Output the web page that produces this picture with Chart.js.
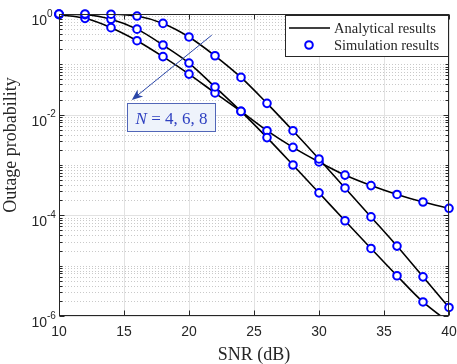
<!DOCTYPE html>
<html>
<head>
<meta charset="utf-8">
<script src="https://cdn.jsdelivr.net/npm/chart.js@4.4.1/dist/chart.umd.min.js"></script>
<style>
  html, body { margin: 0; padding: 0; background: #fff; }
  #wrap { width: 457px; height: 364px; }
</style>
</head>
<body>
<div id="wrap"><canvas id="outageChart"></canvas></div>
<script>
// SNR grid (dB)
const snrDb = [10, 12, 14, 16, 18, 20, 22, 24, 26, 28, 30, 32, 34, 36, 38, 40];

// analytical curves
const analyticalN4 = [1.0, 0.999, 0.99, 0.91, 0.65, 0.35, 0.148, 0.055, 0.0168, 0.0048, 1.32e-3, 3.5e-4, 9.3e-5, 2.45e-5, 6.0e-6, 1.48e-6];
const analyticalN6 = [0.995, 0.97, 0.785, 0.50, 0.242, 0.106, 0.0355, 0.0116, 3.5e-3, 1.0e-3, 2.8e-4, 7.8e-5, 2.2e-5, 6.3e-6, 1.9e-6, 7.5e-7];
const analyticalN8 = [0.97, 0.82, 0.535, 0.295, 0.142, 0.064, 0.027, 0.0116, 4.8e-3, 2.24e-3, 1.15e-3, 6.3e-4, 3.9e-4, 2.6e-4, 1.84e-4, 1.38e-4];

// simulation points
const simulationN4 = [1.0, 1.0, 0.99, 0.91, 0.65, 0.35, 0.148, 0.055, 0.0168, 0.0048, 1.32e-3, 3.5e-4, 9.3e-5, 2.45e-5, 6.0e-6, 1.48e-6];
const simulationN6 = [0.995, 0.97, 0.785, 0.50, 0.242, 0.106, 0.0355, 0.0116, 3.5e-3, 1.0e-3, 2.8e-4, 7.8e-5, 2.2e-5, 6.3e-6, 1.9e-6, 7.5e-7];
const simulationN8 = [0.97, 0.82, 0.535, 0.295, 0.142, 0.064, 0.027, 0.0116, 4.8e-3, 2.24e-3, 1.15e-3, 6.3e-4, 3.9e-4, 2.6e-4, 1.84e-4, 1.38e-4];

// axis ticks and labels
const xTicks = [10, 15, 20, 25, 30, 35, 40];
const yTickExponents = [0, -2, -4, -6];
const legendLabels = ['Analytical results', 'Simulation results'];
const xTitle = 'SNR (dB)';
const yTitle = 'Outage probability';
const noteVar = 'N';
const noteRest = ' = 4, 6, 8';

const AXIS = '#262626';
const SERIF = '"Liberation Serif", "Times New Roman", serif';
const SANS = '"Liberation Sans", Arial, sans-serif';
const MARK = '#0000ff';
const MARK_R = 3.8;
const MARK_W = 2;

const pairs = ys => snrDb.map((x, i) => ({ x: x, y: ys[i] }));

const lineSet = ys => ({
    data: pairs(ys),
    borderColor: '#000',
    borderWidth: 1.6,
    pointRadius: 0,
    cubicInterpolationMode: 'monotone',
    order: 2
});

const markSet = ys => ({
    data: pairs(ys),
    showLine: false,
    pointRadius: MARK_R,
    pointBorderWidth: MARK_W,
    pointBorderColor: MARK,
    pointBackgroundColor: '#fff',
    clip: { left: 10, top: 10, right: 10, bottom: 0 },
    order: 1
});

function seg(ctx, x1, y1, x2, y2) {
    ctx.beginPath();
    ctx.moveTo(x1, y1);
    ctx.lineTo(x2, y2);
    ctx.stroke();
}

const matlabLook = {
    id: 'matlabLook',
    beforeDraw(chart) {
        const ctx = chart.ctx;
        ctx.save();
        ctx.fillStyle = '#fff';
        ctx.fillRect(0, 0, chart.width, chart.height);
        ctx.restore();
    },
    beforeDatasetsDraw(chart) {
        const { ctx, chartArea: a, scales: { x, y } } = chart;
        ctx.save();
        ctx.lineWidth = 1;
        // minor grid, dotted
        ctx.strokeStyle = '#c9c9c9';
        ctx.setLineDash([1, 2]);
        for (let e = -6; e < 0; e++) {
            for (let k = 1; k < 10; k++) {
                if (k === 1 && e % 2 === 0) continue;
                const py = Math.round(y.getPixelForValue(k * Math.pow(10, e))) + 0.5;
                seg(ctx, a.left, py, a.right, py);
            }
        }
        // major grid, solid
        ctx.setLineDash([]);
        ctx.strokeStyle = '#e2e2e2';
        xTicks.forEach(v => {
            const px = Math.round(x.getPixelForValue(v)) + 0.5;
            seg(ctx, px, a.top, px, a.bottom);
        });
        yTickExponents.forEach(e => {
            const py = Math.round(y.getPixelForValue(Math.pow(10, e))) + 0.5;
            seg(ctx, a.left, py, a.right, py);
        });
        ctx.restore();
    },
    afterDatasetsDraw(chart) {
        const { ctx, chartArea: a, scales: { x, y } } = chart;
        ctx.save();
        ctx.strokeStyle = AXIS;
        ctx.lineWidth = 1;
        const L = Math.round(a.left) + 0.5, R = Math.round(a.right) - 0.5;
        const T = Math.round(a.top) + 0.5, B = Math.round(a.bottom) - 0.5;
        ctx.strokeRect(L, T, R - L, B - T);

        // y ticks (major + minor), both sides
        for (let e = -6; e <= 0; e++) {
            for (let k = 1; k < 10; k++) {
                const v = k * Math.pow(10, e);
                if (v > 1) break;
                const py = Math.round(y.getPixelForValue(v)) + 0.5;
                const len = (k === 1 && e % 2 === 0) ? 5 : 3;
                seg(ctx, L, py, L + len, py);
                seg(ctx, R, py, R - len, py);
            }
        }
        // x ticks
        xTicks.forEach(v => {
            const px = Math.round(x.getPixelForValue(v)) + 0.5;
            seg(ctx, px, B, px, B - 5);
            seg(ctx, px, T, px, T + 5);
        });

        // tick labels
        ctx.fillStyle = AXIS;
        ctx.textBaseline = 'alphabetic';
        ctx.font = '14px ' + SANS;
        ctx.textAlign = 'center';
        xTicks.forEach(v => ctx.fillText(String(v), x.getPixelForValue(v), 336));
        yTickExponents.forEach(e => {
            const py = y.getPixelForValue(Math.pow(10, e));
            ctx.font = '14px ' + SANS;
            ctx.textAlign = 'right';
            ctx.fillText('10', a.left - 12, py + 11);
            ctx.font = '10px ' + SANS;
            ctx.textAlign = 'left';
            ctx.fillText(String(e), a.left - 12, py + 2.5);
        });

        // axis titles
        ctx.font = '18px ' + SERIF;
        ctx.textAlign = 'center';
        ctx.fillText(xTitle, (a.left + a.right) / 2, 360);
        ctx.save();
        ctx.translate(16, 145);
        ctx.rotate(-Math.PI / 2);
        ctx.fillText(yTitle, 0, 0);
        ctx.restore();

        // legend
        ctx.fillStyle = '#fff';
        ctx.fillRect(285.5, 15.5, 163, 41);
        ctx.strokeStyle = AXIS;
        ctx.strokeRect(285.5, 15.5, 163, 41);
        ctx.strokeStyle = '#000';
        ctx.lineWidth = 1.6;
        seg(ctx, 289, 28, 330, 28);
        ctx.beginPath();
        ctx.arc(309, 45, MARK_R, 0, Math.PI * 2);
        ctx.fillStyle = '#fff';
        ctx.fill();
        ctx.strokeStyle = MARK;
        ctx.lineWidth = MARK_W;
        ctx.stroke();
        ctx.fillStyle = AXIS;
        ctx.font = '14.5px ' + SERIF;
        ctx.textAlign = 'left';
        ctx.fillText(legendLabels[0], 334, 33);
        ctx.fillText(legendLabels[1], 334, 50);

        // annotation arrow
        const sx = x.getPixelForValue(21.75), sy = y.getPixelForValue(0.38);
        const tx = x.getPixelForValue(15.6), ty = y.getPixelForValue(0.0196);
        const dl = Math.hypot(tx - sx, ty - sy);
        const dx = (tx - sx) / dl, dy = (ty - sy) / dl;
        const nx = -dy, ny = dx;
        ctx.strokeStyle = '#2a46a8';
        ctx.fillStyle = '#2a46a8';
        ctx.lineWidth = 1;
        seg(ctx, sx, sy, tx - dx * 6, ty - dy * 6);
        ctx.beginPath();
        ctx.moveTo(tx, ty);
        ctx.lineTo(tx - dx * 11 + nx * 4.5, ty - dy * 11 + ny * 4.5);
        ctx.lineTo(tx - dx * 8, ty - dy * 8);
        ctx.lineTo(tx - dx * 11 - nx * 4.5, ty - dy * 11 - ny * 4.5);
        ctx.closePath();
        ctx.fill();

        // annotation box
        const bx1 = Math.round(x.getPixelForValue(15.2)) + 0.5;
        const bx2 = Math.round(x.getPixelForValue(22.0)) + 0.5;
        const by1 = Math.round(y.getPixelForValue(0.0168)) + 0.5;
        const by2 = Math.round(y.getPixelForValue(0.00473)) + 0.5;
        ctx.fillStyle = '#eef3fb';
        ctx.fillRect(bx1, by1, bx2 - bx1, by2 - by1);
        ctx.strokeStyle = '#5166b8';
        ctx.strokeRect(bx1, by1, bx2 - bx1, by2 - by1);
        ctx.fillStyle = '#2d3fc0';
        ctx.font = 'italic 17px ' + SERIF;
        const w1 = ctx.measureText(noteVar).width;
        ctx.font = '17px ' + SERIF;
        const w2 = ctx.measureText(noteRest).width;
        const start = (bx1 + bx2) / 2 - (w1 + w2) / 2;
        const base = (by1 + by2) / 2 + 6;
        ctx.font = 'italic 17px ' + SERIF;
        ctx.fillText(noteVar, start, base);
        ctx.font = '17px ' + SERIF;
        ctx.fillText(noteRest, start + w1, base);
        ctx.restore();
    }
};

new Chart(document.getElementById('outageChart'), {
    type: 'line',
    data: {
        datasets: [
            lineSet(analyticalN4), lineSet(analyticalN6), lineSet(analyticalN8),
            markSet(simulationN4), markSet(simulationN6), markSet(simulationN8)
        ]
    },
    options: {
        responsive: true,
        maintainAspectRatio: false,
        animation: false,
        layout: { padding: { left: 59, right: 8, top: 14, bottom: 48 } },
        plugins: { legend: { display: false }, tooltip: { enabled: false } },
        scales: {
            x: { type: 'linear', min: 10, max: 40, display: false },
            y: { type: 'logarithmic', min: 1e-6, max: 1, display: false }
        }
    },
    plugins: [matlabLook]
});
</script>
</body>
</html>
